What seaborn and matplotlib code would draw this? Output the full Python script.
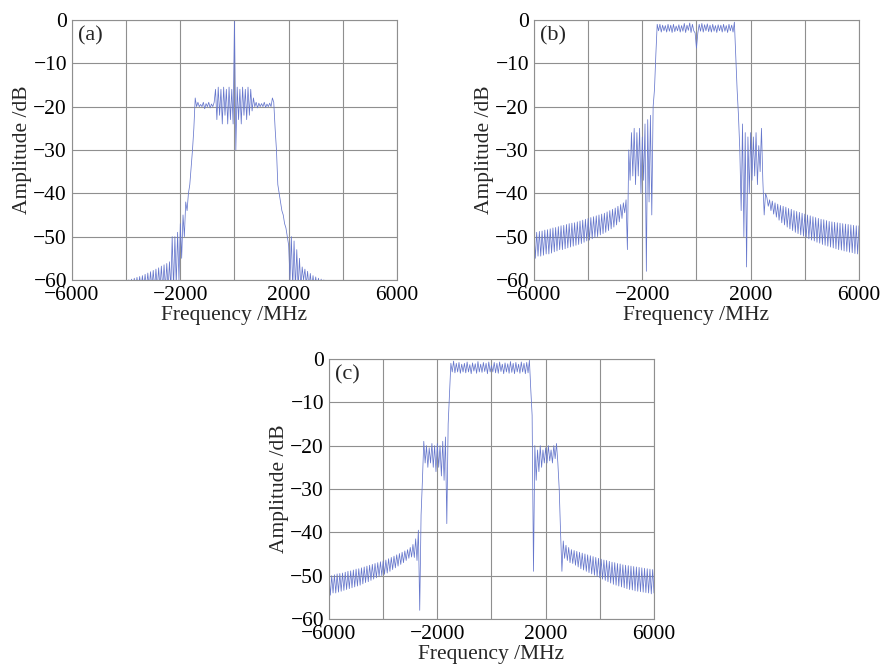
import matplotlib
matplotlib.use("Agg")
import matplotlib.pyplot as plt
import numpy as np
import seaborn as sns

# Frequency grid (MHz), 50 MHz step
freq = np.arange(-6000, 6001, 50)

# Amplitudes (dB), one row per 1000 MHz
amp_a = [
    -65, -65, -65, -65, -65, -65, -65, -65, -65, -65, -65, -65, -65, -65, -65, -65, -65, -65, -65, -65,
    -65, -65, -65, -65, -65, -65, -65, -65, -65, -65, -65, -65, -65, -65, -65, -65, -65, -65, -65, -65,
    -65, -65, -60, -62, -59.8, -62, -59.6, -62, -59.4, -62, -59.2, -62, -59, -62, -58.7, -62, -58.4, -62, -58.1, -62,
    -57.8, -62, -57.5, -62, -57.2, -62, -56.8, -62, -56.5, -62, -56.2, -62, -55.8, -62, -50, -62, -50, -61, -49, -60,
    -47, -55, -45, -50, -42, -44, -40, -38, -34, -30, -25, -18, -20, -19, -20, -19.5, -20, -19, -20.5, -19.3,
    -20, -19, -20.3, -19.4, -20, -19, -16, -23, -15.5, -22, -16, -24, -15.5, -22, -16, -24, -15.5, -23, -16, -24,
    0, -30, -15.5, -23, -16, -24, -15.5, -22, -16, -23, -15.5, -22, -16, -21, -18, -20, -19, -20.3, -19.2, -20,
    -19.3, -20, -19, -20.2, -19.4, -20, -19.2, -20, -18, -19, -25, -30, -38, -40, -42, -44, -45, -47, -48, -50,
    -52, -60, -50, -62, -51, -62, -53, -62, -55, -62, -57, -60, -57.5, -61, -58, -62, -58.5, -62, -59, -62,
    -59.3, -62, -59.6, -62, -59.8, -62, -60, -65, -65, -65, -65, -65, -65, -65, -65, -65, -65, -65, -65, -65,
    -65, -65, -65, -65, -65, -65, -65, -65, -65, -65, -65, -65, -65, -65, -65, -65, -65, -65, -65, -65,
    -65, -65, -65, -65, -65, -65, -65, -65, -65, -65, -65, -65, -65, -65, -65, -65, -65, -65, -65, -65,
    -65,
]

amp_b = [
    -49, -55, -49, -54.5, -48.8, -54.5, -48.7, -54.3, -48.5, -54, -48.4, -54, -48.2, -53.8, -48, -53.5, -47.9, -53.3, -47.7, -53,
    -47.5, -53, -47.4, -52.8, -47.2, -52.6, -47, -52.4, -46.9, -52.2, -46.8, -52, -46.6, -51.8, -46.4, -51.6, -46.2, -51.3, -46, -51,
    -45.8, -50.8, -45.6, -50.5, -45.4, -50.2, -45.2, -50, -45, -49.6, -44.8, -49.3, -44.6, -49, -44.3, -48.6, -44, -48.2, -43.7, -47.8,
    -43.4, -47.3, -43, -46.6, -42.6, -45.8, -42.2, -44.5, -41.5, -53, -30, -37, -26, -36, -25, -38, -26, -36, -25, -40,
    -27, -37, -24, -58, -23, -42, -22, -45, -20, -16, -8, -1, -2.5, -1, -2.8, -1.2, -2.5, -1.3, -2.8, -1,
    -2.6, -1.2, -2.9, -1, -2.7, -1.4, -2.5, -1.1, -2.8, -1.3, -2.6, -0.8, -2.9, -1.2, -2.4, -0.7, -2.9, -1, -2.5, -3,
    -6.5, -3, -1, -2.6, -0.8, -2.8, -1.1, -2.5, -0.9, -2.7, -1.2, -2.8, -1, -2.6, -1.3, -2.9, -1.1, -2.5, -1.2, -2.8,
    -1, -2.6, -1.3, -2.9, -1, -2.5, -1.2, -2.8, -0.5, -8, -16, -22, -30, -44, -24, -50, -26, -57, -27, -40,
    -26, -37, -27, -36, -26, -38, -29, -35, -25, -37, -45, -40, -41, -43, -41.5, -44, -41.8, -44.8, -42.2, -45.5,
    -42.5, -46.2, -42.8, -46.8, -43, -47.3, -43.2, -47.8, -43.5, -48.2, -43.7, -48.6, -44, -49, -44.2, -49.3, -44.4, -49.6, -44.6, -49.9,
    -44.8, -50.2, -45, -50.5, -45.2, -50.8, -45.4, -51, -45.6, -51.3, -45.8, -51.5, -46, -51.8, -46.1, -52, -46.3, -52.2, -46.5, -52.4,
    -46.6, -52.6, -46.7, -52.8, -46.8, -53, -46.9, -53.1, -47, -53.3, -47.1, -53.4, -47.2, -53.6, -47.3, -53.7, -47.4, -53.9, -47.5, -54,
    -47.5,
]

amp_c = [
    -50, -54.5, -50, -54, -49.8, -54, -49.6, -53.8, -49.5, -53.6, -49.4, -53.4, -49.2, -53.2, -49, -53, -48.9, -52.8, -48.7, -52.6,
    -48.5, -52.4, -48.4, -52.2, -48.2, -51.9, -48, -51.6, -47.8, -51.4, -47.6, -51.1, -47.4, -50.8, -47.2, -50.5, -47, -50.2, -46.8, -50,
    -46.6, -49.7, -46.4, -49.4, -46.1, -49, -45.8, -48.6, -45.5, -48.2, -45.2, -47.8, -44.9, -47.4, -44.6, -47, -44.3, -46.5, -44, -46,
    -43.5, -45.7, -42.8, -45.8, -41.5, -46.5, -39.5, -58, -36, -28, -19, -24, -20, -25, -20.5, -24, -19.5, -25, -20, -26,
    -19.5, -25, -20, -27, -19, -28, -18, -38, -15, -8, -1, -3, -0.5, -3.2, -1, -3, -0.8, -3.3, -1.2, -3,
    -1, -3.2, -0.7, -3, -1.3, -3.4, -0.9, -2.8, -1.1, -3.3, -0.6, -3, -1.2, -3.1, -0.8, -2.9, -1, -3.4, -0.7, -3,
    -1.5, -3, -0.8, -3.2, -1, -3.3, -0.7, -2.9, -1.2, -3.4, -0.9, -3, -1.1, -3.3, -0.6, -3.1, -1, -3.4, -0.8, -3,
    -1.2, -3.3, -0.7, -3, -1, -3.4, -0.8, -3.2, -0.3, -7, -13, -49, -20, -28, -21, -26, -20, -25, -21, -24,
    -20.5, -24, -20, -23.5, -21, -24, -20, -23, -19.5, -24, -30, -40, -49, -42, -46, -43, -46.5, -43.5, -47, -44,
    -47.2, -44.2, -47.6, -44.4, -48, -44.6, -48.4, -44.8, -48.7, -45, -49, -45.2, -49.3, -45.4, -49.6, -45.6, -49.9, -45.8, -50.2, -46,
    -50.5, -46.2, -50.8, -46.4, -51.1, -46.5, -51.4, -46.7, -51.7, -46.9, -52, -47, -52.2, -47.2, -52.4, -47.3, -52.6, -47.5, -52.8, -47.6,
    -53, -47.7, -53.2, -47.8, -53.3, -47.9, -53.5, -48, -53.6, -48.1, -53.7, -48.2, -53.8, -48.3, -53.9, -48.4, -54, -48.5, -54.2, -48.6,
    -54,
]

panel_labels = ["(a)", "(b)", "(c)"]
x_ticks = [-6000, -4000, -2000, 0, 2000, 4000, 6000]
x_ticklabels = ["\u22126000", "", "\u22122000", "", "2000", "", "6000"]
y_ticks = [-60, -50, -40, -30, -20, -10, 0]
y_ticklabels = ["\u221260", "\u221250", "\u221240", "\u221230", "\u221220", "\u221210", "0"]

sns.set_theme(style="whitegrid")
plt.rcParams["font.family"] = ["Liberation Serif", "DejaVu Serif"]

fig = plt.figure(figsize=(8.82, 6.65), dpi=100)
axes_pos = [
    [0.0816, 0.579, 0.3685, 0.391],
    [0.6054, 0.579, 0.3685, 0.391],
    [0.373, 0.0692, 0.3685, 0.391],
]

line_color = "#6677cc"
fs = 15.5
for pos, amp, lab in zip(axes_pos, [amp_a, amp_b, amp_c], panel_labels):
    ax = fig.add_axes(pos)
    sns.lineplot(x=freq, y=amp, ax=ax, color=line_color, linewidth=0.55)
    ax.set_xlim(-6000, 6000)
    ax.set_ylim(-60, 0)
    ax.set_xticks(x_ticks)
    ax.set_xticklabels(x_ticklabels)
    ax.set_yticks(y_ticks)
    ax.set_yticklabels(y_ticklabels)
    ax.tick_params(axis="x", length=0, pad=4, labelsize=fs, colors="black")
    ax.tick_params(axis="y", length=0, pad=3.5, labelsize=fs, colors="black")
    ax.grid(True, color="#8f8f8f", linewidth=0.8)
    for sp in ax.spines.values():
        sp.set_visible(True)
        sp.set_color("#8f8f8f")
        sp.set_linewidth(0.8)
    ax.set_xlabel("Frequency /MHz", fontsize=fs, labelpad=1)
    ax.set_ylabel("Amplitude /dB", fontsize=fs, labelpad=1)
    ax.text(0.018, 0.975, lab, transform=ax.transAxes, fontsize=16,
            va="top", ha="left",
            bbox=dict(facecolor="white", edgecolor="none", pad=1))

fig.savefig("out.png", dpi=100)
